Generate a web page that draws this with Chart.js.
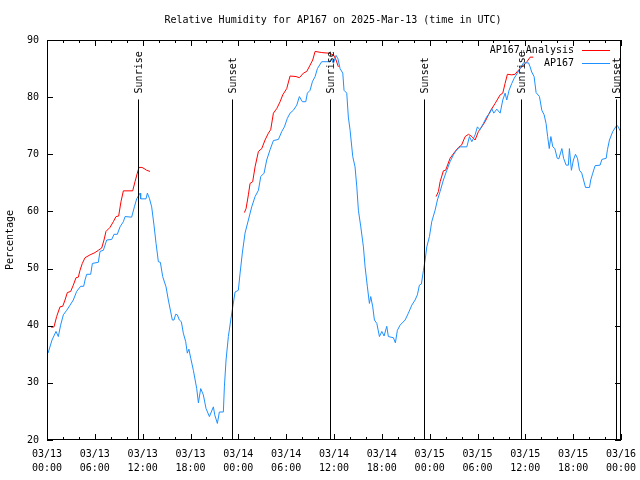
<!DOCTYPE html>
<html>
<head>
<meta charset="utf-8">
<script src="https://cdn.jsdelivr.net/npm/chart.js@4"></script>
<style>
  html, body { margin: 0; background: #fff; }
</style>
</head>
<body>
<canvas id="chart" width="640" height="480"></canvas>
<script>
// hours since 2025-03-13 00:00 UTC
const rhHours = [0.13, 0.63, 1.13, 1.42, 1.71, 2.05, 2.47, 2.89, 3.3, 3.72, 4.22, 4.6, 4.77, 4.98, 5.48, 5.69, 6.44, 6.65, 7.07, 7.49,
  8.12, 8.41, 8.82, 9.16, 9.58, 9.79, 10.62, 10.96, 11.25, 11.67, 11.75, 12.42, 12.59, 12.84, 13.13, 13.42, 13.68, 13.97, 14.22, 14.51,
  14.93, 15.22, 15.52, 15.72, 15.93, 16.14, 16.35, 16.6, 16.85, 17.1, 17.4, 17.6, 17.8, 18.03, 18.36, 18.78, 18.99, 19.28, 19.61, 19.95,
  20.37, 20.87, 21.04, 21.37, 21.62, 22.12, 22.25, 22.46, 22.75, 23.05, 23.3, 23.59, 24.0, 24.22, 24.5, 24.84, 25.26, 25.68, 26.1, 26.52,
  26.81, 27.23, 27.56, 27.98, 28.4, 29.03, 29.45, 29.78, 30.15, 30.49, 30.9, 31.33, 31.66, 32.03, 32.46, 32.66, 33.0, 33.29, 33.63, 33.92,
  34.46, 35.3, 35.72, 35.93, 36.26, 36.5, 36.76, 37.1, 37.26, 37.6, 37.8, 38.02, 38.35, 38.64, 38.86, 39.06, 39.36, 39.69, 39.9, 40.19,
  40.44, 40.61, 40.86, 41.07, 41.37, 41.7, 42.0, 42.28, 42.62, 42.82, 43.45, 43.7, 43.95, 44.29, 44.92, 45.33, 45.76, 46.17, 46.46, 46.71,
  46.96, 47.22, 47.43, 47.64, 47.97, 48.26, 48.68, 48.97, 49.31, 49.72, 50.15, 50.56, 50.98, 51.4, 51.82, 52.66, 52.99, 53.29, 53.7, 53.99,
  54.3, 54.74, 55.17, 55.58, 55.79, 56.04, 56.42, 56.84, 57.17, 57.46, 57.67, 57.96, 58.3, 58.6, 59.0, 59.35, 59.77, 60.4, 60.6, 60.8,
  61.1, 61.35, 61.77, 62.07, 62.36, 62.6, 62.8, 63.0, 63.2, 63.45, 63.7, 64.0, 64.2, 64.58, 64.8, 65.12, 65.4, 65.53, 65.78, 66.03,
  66.29, 66.54, 66.79, 67.08, 67.3, 67.55, 68.05, 68.2, 68.46, 68.75, 69.38, 69.6, 70.14, 70.3, 70.55, 70.97, 71.48, 71.65, 71.9];
const rhValues = [35.2, 37.5, 39.0, 38.1, 40.1, 41.9, 42.7, 43.6, 44.5, 46.0, 46.9, 46.9, 48.0, 49.0, 49.0, 50.9, 51.1, 53.0, 53.2, 55.0,
  55.1, 56.0, 56.0, 57.3, 58.2, 59.1, 59.0, 60.8, 62.2, 63.2, 62.2, 62.2, 63.2, 62.3, 60.8, 57.6, 54.4, 51.2, 51.1, 48.6,
  46.8, 44.5, 42.4, 41.0, 41.0, 42.0, 41.9, 41.0, 40.7, 38.7, 37.2, 35.2, 35.9, 34.3, 32.2, 29.0, 26.5, 29.0, 27.9, 25.5,
  24.1, 25.8, 24.4, 22.9, 24.9, 24.9, 29.3, 34.0, 38.1, 41.0, 43.3, 45.9, 46.2, 49.2, 52.7, 56.2, 58.5, 60.8, 62.6, 63.7,
  66.1, 66.7, 69.0, 70.8, 72.4, 72.6, 74.0, 74.8, 76.3, 77.2, 77.7, 78.6, 80.1, 79.2, 79.2, 80.7, 81.2, 82.7, 83.6, 85.0,
  86.2, 86.2, 86.6, 85.9, 87.3, 86.7, 85.0, 84.2, 81.2, 80.7, 76.5, 74.2, 69.6, 67.8, 64.3, 60.2, 57.3, 53.8, 50.3, 46.8,
  43.9, 45.1, 43.3, 41.0, 40.4, 38.1, 39.0, 38.2, 39.9, 38.1, 37.9, 37.0, 39.2, 40.1, 41.0, 42.2, 43.6, 44.5, 45.4, 47.1,
  47.3, 49.7, 51.5, 53.8, 55.6, 58.2, 60.2, 62.0, 63.5, 65.5, 67.2, 68.7, 69.9, 70.8, 71.3, 71.3, 73.1, 72.2, 73.4, 74.8,
  74.3, 75.4, 76.6, 77.3, 78.0, 77.2, 77.9, 77.2, 79.5, 80.7, 79.5, 81.2, 82.4, 83.3, 84.2, 85.0, 86.0, 86.0, 85.3, 84.4,
  83.6, 80.8, 80.1, 77.7, 76.9, 75.4, 73.1, 71.0, 73.1, 71.3, 71.0, 69.3, 69.2, 71.0, 69.3, 68.1, 68.1, 71.0, 67.2, 69.0,
  70.0, 69.3, 67.2, 66.7, 65.5, 64.2, 64.2, 65.5, 66.7, 68.0, 68.1, 69.1, 69.3, 70.8, 72.5, 74.0, 75.1, 74.8, 74.1];

// analysis runs, null breaks the line between runs
const anaHours = [0.54, 0.88, 1.21, 1.63, 1.97, 2.26, 2.55, 2.97, 3.3, 3.64, 3.93, 4.14, 4.43, 4.77, 5.4, 6.02, 6.44, 6.86, 7.15, 7.4,
  7.9, 8.32, 8.66, 8.99, 9.28, 9.58, 10.75, 11.04, 11.33, 11.54, 11.92, 12.3, 12.5, 12.92, 18,
  24.76, 24.97, 25.26, 25.47, 25.8, 26.1, 26.52, 26.94, 27.35, 27.77, 28.06, 28.4, 28.82, 29.24, 29.57, 30.07, 30.49, 31.24, 31.66, 32.16,
  32.58, 33.0, 33.33, 33.63, 34.46, 35.3, 35.93, 36.26, 36.55, 42,
  48.81, 49.1, 49.31, 49.72, 50.0, 50.56, 51.19, 51.61, 52.0, 52.45, 52.87, 53.29, 53.7, 54.12, 54.53, 54.95, 55.58, 56.21, 56.84, 57.17,
  57.46, 57.75, 58.3, 58.71, 59.0, 59.35, 59.77, 60.2, 60.6, 61.0];
const anaValues = [39.7, 39.8, 41.6, 43.3, 43.4, 44.5, 45.8, 46.0, 47.1, 48.4, 48.5, 49.7, 50.9, 51.9, 52.4, 52.8, 53.2, 53.6, 55.0, 56.5,
  57.2, 58.2, 59.1, 59.2, 61.7, 63.6, 63.6, 65.2, 66.7, 67.7, 67.7, 67.4, 67.2, 67.0, null,
  59.8, 60.5, 62.9, 64.9, 65.2, 67.8, 70.5, 71.0, 72.5, 73.7, 74.3, 77.2, 78.0, 79.2, 80.4, 81.5, 83.7, 83.6, 83.4, 84.2,
  84.5, 85.6, 86.5, 88.0, 87.8, 87.7, 87.4, 86.5, 85.3, null,
  62.6, 63.5, 65.2, 67.1, 67.2, 69.3, 70.5, 71.2, 71.6, 73.1, 73.5, 73.1, 72.5, 74.0, 74.8, 75.7, 77.5, 78.9, 80.4, 80.7,
  82.4, 84.0, 83.9, 84.0, 84.5, 85.0, 85.6, 86.2, 87.0, 87.0];

const sunHours = [11.45, 23.25, 35.55, 47.35, 59.5, 71.4];
const sunLabels = ['Sunrise', 'Sunset', 'Sunrise', 'Sunset', 'Sunrise', 'Sunset'];

const xTickHours = [0, 6, 12, 18, 24, 30, 36, 42, 48, 54, 60, 66, 72];
const xTickLabels = [
  ['03/13', '00:00'], ['03/13', '06:00'], ['03/13', '12:00'], ['03/13', '18:00'],
  ['03/14', '00:00'], ['03/14', '06:00'], ['03/14', '12:00'], ['03/14', '18:00'],
  ['03/15', '00:00'], ['03/15', '06:00'], ['03/15', '12:00'], ['03/15', '18:00'],
  ['03/16', '00:00']];

const seriesNames = ['AP167ᵤAnalysis', 'AP167'];
const chartTitle = 'Relative Humidity for AP167 on 2025-Mar-13 (time in UTC)';
const RED = '#ff0000';
const BLUE = '#1e90ff';
const FONT = 'DejaVu Sans Mono';

Chart.defaults.font.family = FONT;
Chart.defaults.font.size = 10;
Chart.defaults.color = '#000';

function toPoints(hours, values) {
  return hours.map(function (h, i) {
    return { x: h, y: values[i] };
  });
}

const overlay = {
  id: 'overlay',
  afterDatasetsDraw: function (chart) {
    const ctx = chart.ctx;
    const a = chart.chartArea;
    const x = chart.scales.x;
    const y = chart.scales.y;

    ctx.save();
    ctx.strokeStyle = '#000';
    ctx.fillStyle = '#000';
    ctx.lineWidth = 1;
    ctx.font = '10px ' + FONT;

    // title, centred like gnuplot does it
    ctx.textAlign = 'center';
    ctx.textBaseline = 'middle';
    ctx.fillText(chartTitle, 333, 20);

    // sunrise / sunset markers
    const lineTop = y.getPixelForValue(79.6);
    sunHours.forEach(function (h, i) {
      const px = Math.round(x.getPixelForValue(h)) + 0.5;
      ctx.beginPath();
      ctx.moveTo(px, a.bottom);
      ctx.lineTo(px, lineTop);
      ctx.stroke();
      ctx.save();
      ctx.translate(px + 1, lineTop - 6);
      ctx.rotate(-Math.PI / 2);
      ctx.textAlign = 'left';
      ctx.textBaseline = 'middle';
      ctx.fillText(sunLabels[i], 0, 0);
      ctx.restore();
    });

    // border
    ctx.strokeRect(a.left + 0.5, a.top + 0.5, a.width - 1, a.height - 1);

    // inward ticks, minor every 2 h
    ctx.beginPath();
    for (let h = 0; h <= 72; h += 2) {
      const px = Math.round(x.getPixelForValue(h)) + 0.5;
      const len = h % 6 === 0 ? 6 : 3;
      ctx.moveTo(px, a.bottom);
      ctx.lineTo(px, a.bottom - len);
      ctx.moveTo(px, a.top);
      ctx.lineTo(px, a.top + len);
    }
    for (let v = 20; v <= 90; v += 10) {
      const py = Math.round(y.getPixelForValue(v)) + 0.5;
      ctx.moveTo(a.left, py);
      ctx.lineTo(a.left + 6, py);
      ctx.moveTo(a.right, py);
      ctx.lineTo(a.right - 6, py);
    }
    ctx.stroke();

    // key
    const colors = [RED, BLUE];
    seriesNames.forEach(function (name, i) {
      const ky = a.top + 10 + i * 13;
      ctx.textAlign = 'right';
      ctx.textBaseline = 'middle';
      ctx.fillStyle = '#000';
      ctx.fillText(name, a.right - 47, ky);
      ctx.strokeStyle = colors[i];
      ctx.beginPath();
      ctx.moveTo(a.right - 39, ky + 0.5);
      ctx.lineTo(a.right - 11, ky + 0.5);
      ctx.stroke();
    });
    ctx.restore();
  }
};

new Chart(document.getElementById('chart'), {
  type: 'line',
  data: {
    datasets: [
      {
        label: seriesNames[1],
        data: toPoints(rhHours, rhValues),
        borderColor: BLUE,
        borderWidth: 1,
        pointRadius: 0,
        tension: 0,
        order: 0
      },
      {
        label: seriesNames[0],
        data: toPoints(anaHours, anaValues),
        borderColor: RED,
        borderWidth: 1,
        pointRadius: 0,
        tension: 0,
        spanGaps: false,
        order: 1
      }
    ]
  },
  options: {
    responsive: false,
    animation: false,
    devicePixelRatio: 1,
    layout: { padding: { left: 0, right: 19, top: 40, bottom: 0 } },
    plugins: {
      legend: { display: false },
      tooltip: { enabled: false },
      title: { display: false }
    },
    scales: {
      x: {
        type: 'linear',
        min: 0,
        max: 72,
        afterBuildTicks: function (scale) {
          scale.ticks = xTickHours.map(function (v) { return { value: v }; });
        },
        afterFit: function (scale) {
          scale.height = 40;
          scale.paddingLeft = 0;
          scale.paddingRight = 0;
        },
        ticks: {
          autoSkip: false,
          maxRotation: 0,
          padding: 0,
          font: { lineHeight: 1.35 },
          callback: function (v, i) { return xTickLabels[i]; }
        },
        grid: { display: false },
        border: { display: false }
      },
      y: {
        min: 20,
        max: 90,
        afterFit: function (scale) { scale.width = 47; },
        ticks: { stepSize: 10, padding: 0 },
        grid: { display: false },
        border: { display: false },
        title: { display: true, text: 'Percentage', padding: { top: 4, bottom: 0 } }
      }
    }
  },
  plugins: [overlay]
});
</script>
</body>
</html>
